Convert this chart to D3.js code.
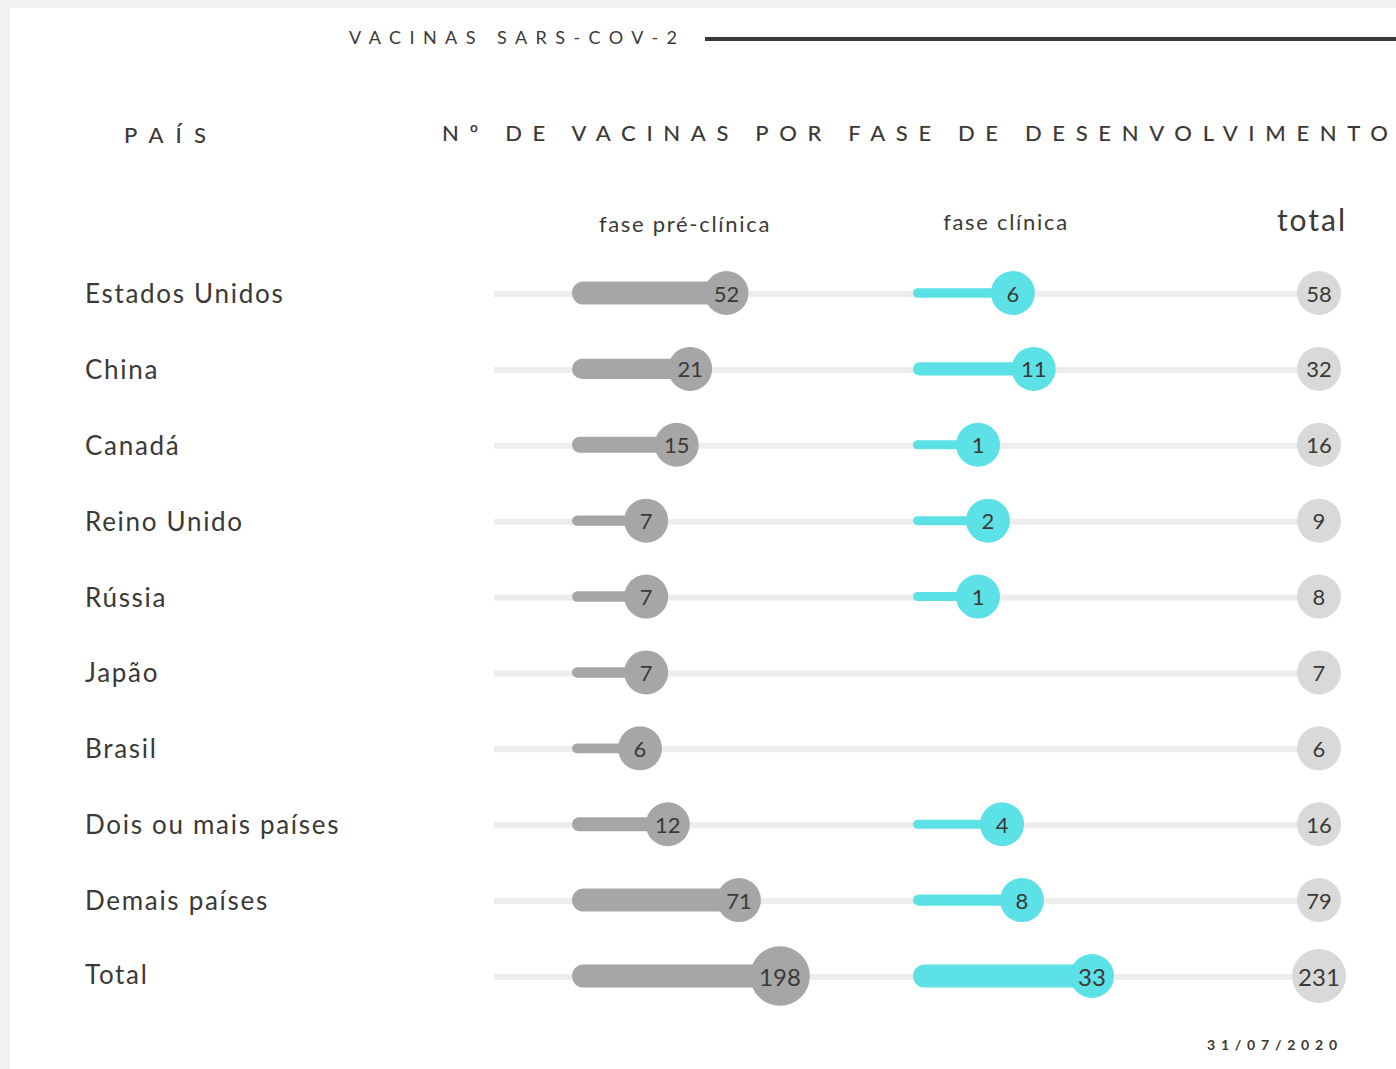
<!DOCTYPE html>
<html>
<head>
<meta charset="utf-8">
<script src="https://cdn.jsdelivr.net/npm/d3@7"></script>
<style>
  html, body { margin: 0; padding: 0; background: #f2f2f2; }
  svg { display: block; }
  text { font-family: Lato, "Open Sans", sans-serif; fill: #3b3936; }
</style>
</head>
<body>
<svg id="chart" width="1396" height="1069"></svg>
<script>
// ---- data ----
const countries = ["Estados Unidos", "China", "Canadá", "Reino Unido", "Rússia", "Japão", "Brasil", "Dois ou mais países", "Demais países", "Total"];
const preClinical = [52, 21, 15, 7, 7, 7, 6, 12, 71, 198];
const clinical = [6, 11, 1, 2, 1, 0, 0, 4, 8, 33];
const totals = [58, 32, 16, 9, 8, 7, 6, 16, 79, 231];
const title = "VACINAS SARS-COV-2";
const colHeaderCountry = "PAÍS";
const colHeaderMain = "Nº DE VACINAS POR FASE DE DESENVOLVIMENTO";
const phaseLabels = ["fase pré-clínica", "fase clínica", "total"];
const dateLabel = "31/07/2020";

const rows = countries.map((c, i) => ({
  country: c, pre: preClinical[i], clin: clinical[i], total: totals[i], isTotal: c === "Total"
}));

// ---- styling ----
const colors = { track: "#ededed", pre: "#a6a6a6", clin: "#5ce1e6", total: "#d9d9d9", text: "#3b3936" };

const svg = d3.select("#chart");

// white card
svg.append("rect").attr("x", 10).attr("y", 8).attr("width", 1386).attr("height", 1061).attr("fill", "#ffffff");

// ---- scales ----
const y = d3.scalePoint().domain(countries).range([293, 976]);
const xPre = d3.scaleLog().domain([6, 198]).range([640, 780]);
const xClin = d3.scaleSqrt().domain([0, 33]).range([954, 1092]);
const xTotal = 1319;
const trackStart = 494, preStart = 572, clinStart = 913;
const thick = d3.scaleLinear().domain([5, 25]).range([9, 23]).clamp(true);
const radius = d3.scaleLinear().domain([80, 200]).range([22, 30]).clamp(true);

// ---- header ----
svg.append("text").attr("x", 349).attr("y", 44).attr("font-size", 18)
  .attr("textLength", 328).attr("lengthAdjust", "spacing").text(title);
svg.append("line").attr("x1", 705).attr("x2", 1396).attr("y1", 39).attr("y2", 39)
  .attr("stroke", "#3b3936").attr("stroke-width", 4);

svg.append("text").attr("x", 124).attr("y", 143).attr("font-size", 22).attr("font-weight", 500)
  .attr("textLength", 82).attr("lengthAdjust", "spacing").text(colHeaderCountry);
svg.append("text").attr("x", 442).attr("y", 141).attr("font-size", 22).attr("font-weight", 500)
  .attr("textLength", 946).attr("lengthAdjust", "spacing").text(colHeaderMain);

const phaseX = [685, 1006, 1312];
const phaseY = [232, 230, 231];
const phaseSize = [22, 22, 30];
const phaseSpacing = [1.7, 1.7, 2];
svg.selectAll("text.phase").data(phaseLabels).join("text")
  .attr("class", "phase")
  .attr("x", (d, i) => phaseX[i]).attr("y", (d, i) => phaseY[i])
  .attr("text-anchor", "middle").attr("font-size", (d, i) => phaseSize[i])
  .attr("letter-spacing", (d, i) => phaseSpacing[i])
  .text(d => d);

// ---- rows ----
const g = svg.selectAll("g.row").data(rows).join("g").attr("class", "row")
  .attr("transform", d => `translate(0,${y(d.country)})`);

// country label
g.append("text").attr("x", 85).attr("y", d => d.isTotal ? -2 : 0)
  .attr("dominant-baseline", "central").attr("font-size", 26)
  .attr("letter-spacing", 1.7).text(d => d.country);

// background track
g.append("line").attr("x1", trackStart).attr("x2", xTotal).attr("y1", 1).attr("y2", 1)
  .attr("stroke", colors.track).attr("stroke-width", 6);

// pre-clinical bar + circle
g.append("line")
  .attr("x1", d => preStart + thick(d.pre) / 2).attr("x2", d => xPre(d.pre))
  .attr("y1", 0).attr("y2", 0)
  .attr("stroke", colors.pre).attr("stroke-width", d => thick(d.pre)).attr("stroke-linecap", "round");
g.append("circle").attr("cx", d => xPre(d.pre)).attr("cy", 0).attr("r", d => radius(d.pre))
  .attr("fill", colors.pre);
g.append("text").attr("x", d => xPre(d.pre)).attr("y", 0)
  .attr("text-anchor", "middle").attr("dominant-baseline", "central")
  .attr("font-size", d => d.isTotal ? 24 : 22).text(d => d.pre);

// clinical bar + circle
const gc = g.filter(d => d.clin > 0);
gc.append("line")
  .attr("x1", d => clinStart + thick(d.clin) / 2).attr("x2", d => xClin(d.clin))
  .attr("y1", 0).attr("y2", 0)
  .attr("stroke", colors.clin).attr("stroke-width", d => thick(d.clin)).attr("stroke-linecap", "round");
gc.append("circle").attr("cx", d => xClin(d.clin)).attr("cy", 0).attr("r", d => radius(d.clin))
  .attr("fill", colors.clin);
gc.append("text").attr("x", d => xClin(d.clin)).attr("y", 0)
  .attr("text-anchor", "middle").attr("dominant-baseline", "central")
  .attr("font-size", d => d.isTotal ? 24 : 22).text(d => d.clin);

// total circle
g.append("circle").attr("cx", xTotal).attr("cy", 0).attr("r", d => d.isTotal ? 27 : 22)
  .attr("fill", colors.total);
g.append("text").attr("x", xTotal).attr("y", 0)
  .attr("text-anchor", "middle").attr("dominant-baseline", "central")
  .attr("font-size", d => d.isTotal ? 24 : 22).text(d => d.total);

// date
svg.append("text").attr("x", 1207).attr("y", 1050).attr("font-size", 14).attr("font-weight", 700)
  .attr("textLength", 130).attr("lengthAdjust", "spacing").text(dateLabel);
</script>
</body>
</html>
